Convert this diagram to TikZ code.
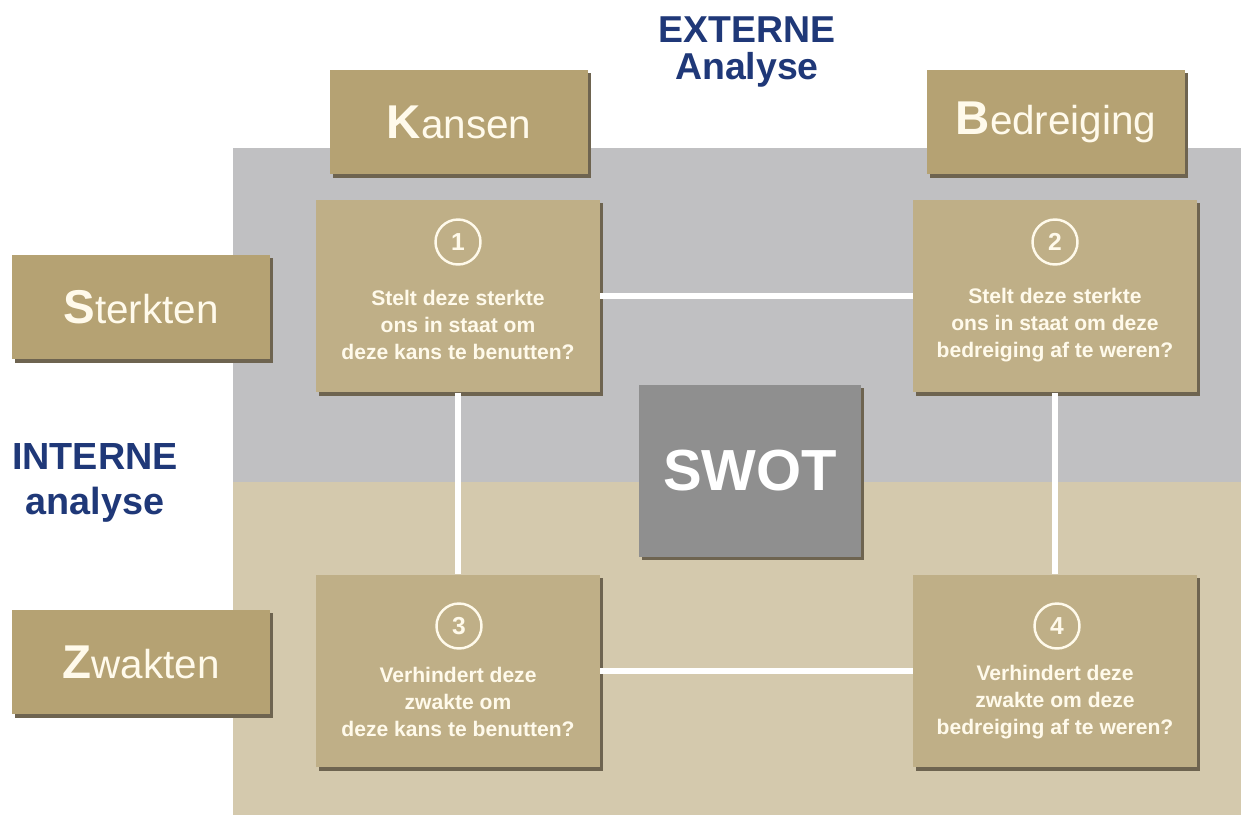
\documentclass[tikz,border=0pt]{standalone}
\usepackage{fontspec}
\setmainfont{Liberation Sans}
\usetikzlibrary{shadows}
\definecolor{khaki}{HTML}{B5A273}
\definecolor{innerc}{HTML}{BFAF87}
\definecolor{shadowc}{HTML}{6E6450}
\definecolor{grayband}{HTML}{C0C0C2}
\definecolor{beigeband}{HTML}{D4C9AD}
\definecolor{swotc}{HTML}{8F8F8F}
\definecolor{navy}{HTML}{1F3878}
\definecolor{txtc}{HTML}{FFFAEB}
\tikzset{
  shad/.style={drop shadow={shadow xshift=0.065cm, shadow yshift=-0.065cm, fill=shadowc, opacity=1}},
  headbox/.style={shad, fill=khaki, draw=none, minimum width=5.16cm, text=txtc, inner sep=0pt},
  qbox/.style={shad, fill=innerc, draw=none, minimum width=5.68cm, minimum height=3.86cm, inner sep=0pt},
  numc/.style={circle, draw=txtc, line width=1.4pt, minimum size=0.9cm, inner sep=0pt, text=txtc, font=\fontsize{14}{16}\selectfont\bfseries},
  qtext/.style={align=center, text=txtc, font=\fontsize{12}{15.3}\selectfont\bfseries, inner sep=0pt},
  conn/.style={draw=white, line width=3.4pt},
  title/.style={align=center, text=navy, font=\fontsize{21.3}{22}\selectfont\bfseries, inner sep=0pt},
}
\newcommand{\hdr}[2]{{\fontsize{27}{30}\selectfont\bfseries #1}{\fontsize{23}{26}\selectfont #2}}
\begin{document}
\begin{tikzpicture}[x=0.02cm,y=-0.02cm]
\useasboundingbox (0,0) rectangle (1241,815);
\fill[white] (0,0) rectangle (1241,815);
% bands
\fill[grayband] (233,148) rectangle (1241,482);
\fill[beigeband] (233,482) rectangle (1241,815);
% titles
\node[title] (ext) at (747,52) {EXTERNE\\[-1pt]Analyse};
\node[title, font=\fontsize{21.5}{25.5}\selectfont\bfseries] (int) at (95,483) {INTERNE\\analyse};
% header boxes
\node[headbox, minimum height=2.1cm] (kans) at (459,122) {\hdr{K}{ansen}};
\node[headbox, minimum height=2.1cm] (bedr) at (1056,122) {\hdr{B}{edreiging}};
\node[headbox, minimum height=2.1cm] (sterk) at (141,307) {\hdr{S}{terkten}};
\node[headbox, minimum height=2.1cm] (zwak) at (141,662) {\hdr{Z}{wakten}};
% question boxes
\node[qbox] (b1) at (458,296) {};
\node[qbox] (b2) at (1055,296) {};
\node[qbox] (b3) at (458,671) {};
\node[qbox] (b4) at (1055,671) {};
% connectors
\draw[conn] (b1.east) -- (b2.west);
\draw[conn] (b3.east) -- (b4.west);
\draw[conn] (b1.south) -- (b3.north);
\draw[conn] (b2.south) -- (b4.north);
% SWOT
\node[shad, fill=swotc, minimum width=4.44cm, minimum height=3.44cm, text=white, font=\fontsize{33}{36}\selectfont\bfseries, inner sep=0pt] (swot) at (750,471) {SWOT};
% contents
\node[numc] (n1) at (458,242) {1};
\node[numc] (n2) at (1055,242) {2};
\node[numc] (n3) at (459,626) {3};
\node[numc] (n4) at (1057,626) {4};
\node[qtext] (t1) at (458,325) {Stelt deze sterkte\\ons in staat om\\deze kans te benutten?};
\node[qtext] (t2) at (1055,325) {Stelt deze sterkte\\ons in staat om deze\\bedreiging af te weren?};
\node[qtext] (t3) at (458,702) {Verhindert deze\\zwakte om\\deze kans te benutten?};
\node[qtext] (t4) at (1055,702) {Verhindert deze\\zwakte om deze\\bedreiging af te weren?};
\end{tikzpicture}
\end{document}
